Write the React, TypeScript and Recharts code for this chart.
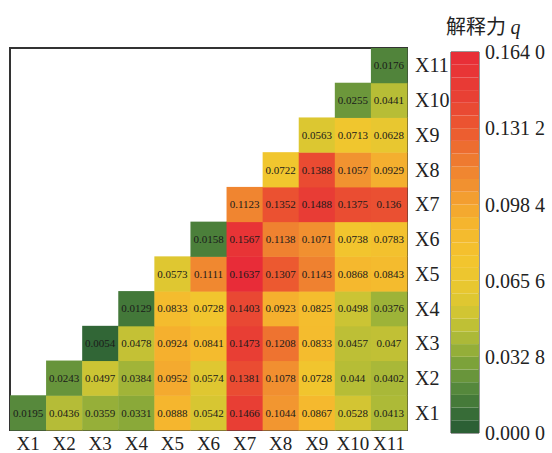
import React from "react";
import {
  ScatterChart,
  Scatter,
  XAxis,
  YAxis,
  ReferenceArea,
  BarChart,
  Bar,
} from "recharts";

// factor labels (X1..X11)
const FACTORS = [1, 2, 3, 4, 5, 6, 7, 8, 9, 10, 11];

// interaction q, one array per row (row Xn holds columns Xn..X11)
const ROW_X1 = [0.0195, 0.0436, 0.0359, 0.0331, 0.0888, 0.0542, 0.1466, 0.1044, 0.0867, 0.0528, 0.0413];
const ROW_X2 = [0.0243, 0.0497, 0.0384, 0.0952, 0.0574, 0.1381, 0.1078, 0.0728, 0.044, 0.0402];
const ROW_X3 = [0.0054, 0.0478, 0.0924, 0.0841, 0.1473, 0.1208, 0.0833, 0.0457, 0.047];
const ROW_X4 = [0.0129, 0.0833, 0.0728, 0.1403, 0.0923, 0.0825, 0.0498, 0.0376];
const ROW_X5 = [0.0573, 0.1111, 0.1637, 0.1307, 0.1143, 0.0868, 0.0843];
const ROW_X6 = [0.0158, 0.1567, 0.1138, 0.1071, 0.0738, 0.0783];
const ROW_X7 = [0.1123, 0.1352, 0.1488, 0.1375, 0.136];
const ROW_X8 = [0.0722, 0.1388, 0.1057, 0.0929];
const ROW_X9 = [0.0563, 0.0713, 0.0628];
const ROW_X10 = [0.0255, 0.0441];
const ROW_X11 = [0.0176];

const ROWS = [ROW_X1, ROW_X2, ROW_X3, ROW_X4, ROW_X5, ROW_X6, ROW_X7, ROW_X8, ROW_X9, ROW_X10, ROW_X11];

// colour bar
const Q_MAX = 0.164;
const BAR_TICKS = [0, 0.0328, 0.0656, 0.0984, 0.1312, 0.164];
const BAND_COUNT = 30;

const COLOR_STOPS: [number, string][] = [
  [0.0, "#275a34"],
  [0.01, "#3a7038"],
  [0.02, "#588a3c"],
  [0.03, "#7ca23a"],
  [0.04, "#a8b838"],
  [0.05, "#ccc434"],
  [0.06, "#e6c830"],
  [0.075, "#f3c52e"],
  [0.09, "#f5b52e"],
  [0.1, "#f3a030"],
  [0.11, "#f08a30"],
  [0.12, "#ee7530"],
  [0.13, "#ec5a30"],
  [0.145, "#e84034"],
  [0.164, "#e82c38"],
];

const hex = (c: string) => [1, 3, 5].map((i) => parseInt(c.slice(i, i + 2), 16));

const colorFor = (v: number) => {
  for (let i = 1; i < COLOR_STOPS.length; i++) {
    const [v1, c1] = COLOR_STOPS[i];
    const [v0, c0] = COLOR_STOPS[i - 1];
    if (v <= v1) {
      const t = (v - v0) / (v1 - v0);
      const a = hex(c0);
      const b = hex(c1);
      const m = a.map((x, k) => Math.round(x + (b[k] - x) * t));
      return `rgb(${m[0]},${m[1]},${m[2]})`;
    }
  }
  return COLOR_STOPS[COLOR_STOPS.length - 1][1];
};

const W = 552;
const H = 453;
const PLOT = { left: 10, top: 48, right: 407, bottom: 430 };
const CELL_W = (PLOT.right - PLOT.left) / 11;
const CELL_H = (PLOT.bottom - PLOT.top) / 11;

const SERIF = "Liberation Serif";

const cells = ROWS.flatMap((row, r) =>
  row.map((q, i) => ({ x: r + 1 + i, y: r + 1, q }))
);

// one stacked column, one segment per colour band
const bandKeys = Array.from({ length: BAND_COUNT }, (_, i) => `b${i}`);
const bandRow: Record<string, number | string> = { name: "q" };
bandKeys.forEach((k) => (bandRow[k] = Q_MAX / BAND_COUNT));
const bandColors = bandKeys.map((_, i) => colorFor((Q_MAX * (i + 0.5)) / BAND_COUNT));

const CellShape = (props: any) => {
  const { cx, cy, payload } = props;
  if (cx == null || cy == null) return null;
  return (
    <g>
      <rect
        x={cx - CELL_W / 2}
        y={cy - CELL_H / 2}
        width={CELL_W + 0.5}
        height={CELL_H + 0.5}
        fill={colorFor(payload.q)}
      />
      <text
        x={cx}
        y={cy}
        textAnchor="middle"
        dominantBaseline="central"
        fontSize={11}
        fontFamily={SERIF}
        fill="#1a1a1a"
      >
        {payload.q}
      </text>
    </g>
  );
};

const fmtBar = (v: number) => {
  const s = v.toFixed(4);
  return `${s.slice(0, 5)} ${s.slice(5)}`;
};

export default function App() {
  const tickStyle = { fontSize: 20, fill: "#222", fontFamily: SERIF };
  return (
    <div style={{ position: "absolute", left: 0, top: 0, width: W, height: H, background: "#fff" }}>
      <div style={{ position: "absolute", left: 0, top: 0 }}>
        <ScatterChart
          width={W}
          height={H}
          margin={{ top: PLOT.top, left: PLOT.left, right: W - PLOT.right - 46, bottom: 0 }}
        >
          <XAxis
            type="number"
            dataKey="x"
            domain={[0.5, 11.5]}
            ticks={FACTORS}
            tickFormatter={(n) => `X${n}`}
            axisLine={false}
            tickLine={false}
            tickMargin={1}
            height={H - PLOT.bottom}
            tick={{ ...tickStyle, fontSize: 19 }}
            interval={0}
          />
          <YAxis
            type="number"
            dataKey="y"
            orientation="right"
            domain={[0.5, 11.5]}
            ticks={FACTORS}
            tickFormatter={(n) => `X${n}`}
            axisLine={false}
            tickLine={false}
            tickMargin={2}
            width={46}
            tick={tickStyle}
            interval={0}
          />
          <Scatter data={cells} shape={<CellShape />} isAnimationActive={false} />
          <ReferenceArea
            x1={0.5}
            x2={11.5}
            y1={0.5}
            y2={11.5}
            fill="none"
            stroke="#333"
            strokeWidth={2}
            ifOverflow="visible"
          />
        </ScatterChart>
      </div>

      {/* colour bar */}
      <div style={{ position: "absolute", left: 0, top: 0 }}>
        <BarChart
          width={W}
          height={H}
          data={[bandRow]}
          margin={{ top: 52, bottom: 20, left: 451, right: 0 }}
          barCategoryGap={0}
          barGap={0}
        >
          <XAxis dataKey="name" hide />
          <YAxis
            type="number"
            orientation="right"
            domain={[0, Q_MAX]}
            ticks={BAR_TICKS}
            tickFormatter={fmtBar}
            axisLine={false}
            tickLine={false}
            tickMargin={0}
            width={73}
            tick={{ fontSize: 20, fill: "#222", fontFamily: SERIF }}
            interval={0}
          />
          {bandKeys.map((k, i) => (
            <Bar key={k} dataKey={k} stackId="bar" fill={bandColors[i]} isAnimationActive={false} />
          ))}
          <ReferenceArea y1={0} y2={Q_MAX} fill="none" stroke="#333" strokeWidth={1} ifOverflow="visible" />
        </BarChart>
      </div>

      <div
        style={{
          position: "absolute",
          left: 446,
          top: 11,
          fontSize: 20,
          color: "#222",
          fontFamily: "'Noto Sans CJK SC', sans-serif",
          whiteSpace: "nowrap",
        }}
      >
        解释力 <span style={{ fontFamily: SERIF, fontStyle: "italic" }}>q</span>
      </div>
    </div>
  );
}
